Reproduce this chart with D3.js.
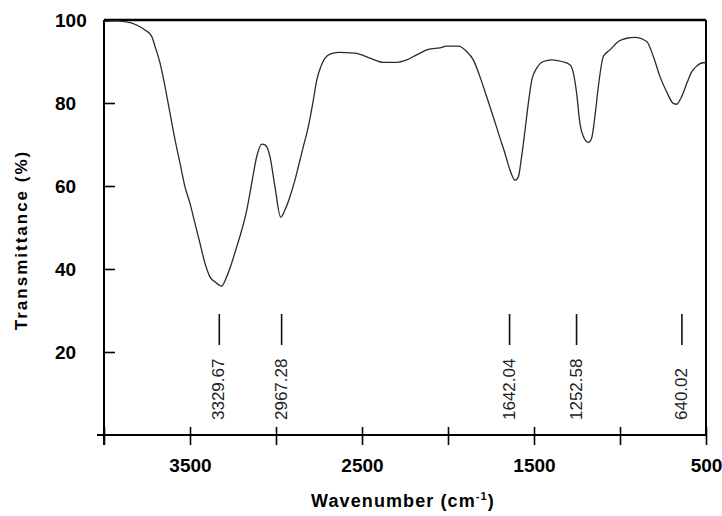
<!DOCTYPE html>
<html>
<head>
<meta charset="utf-8">
<script src="https://cdn.jsdelivr.net/npm/d3@7"></script>
<style>
  body { margin: 0; background: #fff; }
  svg { display: block; font-family: "Liberation Sans", Arial, sans-serif; }
</style>
</head>
<body>
<svg id="chart"></svg>
<script>
// spectrum
let wavenumber = [4000, 3946, 3878, 3810, 3762, 3723, 3703, 3674, 3645, 3616, 3587, 3558, 3529, 3500,
  3471, 3442, 3413, 3384, 3355, 3316, 3287, 3258, 3228, 3199, 3170, 3141, 3112, 3083, 3064, 3035,
  3006, 2973, 2948, 2919, 2890, 2870, 2841, 2812, 2783, 2763, 2740, 2715, 2686, 2638, 2541, 2453,
  2376, 2298, 2240, 2182, 2115, 2047, 2008, 1940, 1891, 1853, 1814, 1775, 1737, 1698, 1669, 1640,
  1610, 1591, 1572, 1552, 1533, 1513, 1484, 1446, 1397, 1339, 1291, 1271, 1252, 1233, 1213, 1184,
  1165, 1146, 1126, 1097, 1058, 1010, 961, 913, 845, 806, 767, 729, 690, 671, 642, 612, 583, 554, 516, 500];
let transmittance = [99.6, 99.8, 99.6, 98.8, 97.6, 96.1, 93.6, 89.6, 83.9, 77.5, 71.1, 65.5, 59.8, 55.8,
  51.0, 46.2, 41.4, 38.1, 36.9, 35.9, 38.1, 41.4, 45.4, 49.4, 54.2, 60.7, 67.1, 70.1, 69.9, 67.1,
  59.8, 52.5, 54.2, 57.4, 61.4, 64.7, 69.5, 74.3, 80.7, 85.5, 88.7, 90.8, 91.8, 92.2, 92.0, 90.8,
  89.8, 89.8, 90.4, 91.6, 92.9, 93.3, 93.7, 93.7, 92.4, 90.4, 86.3, 81.5, 76.7, 71.6, 67.9, 63.9,
  61.4, 62.2, 67.1, 73.5, 79.9, 85.5, 88.4, 90.0, 90.4, 90.0, 89.2, 87.2, 82.3, 75.1, 71.9, 70.5,
  71.5, 76.7, 83.9, 91.2, 92.8, 94.8, 95.6, 95.8, 94.8, 91.2, 86.3, 82.7, 79.9, 79.7, 81.5, 84.7, 87.5, 88.9, 89.7, 89.7];

let peaks = [3329.67, 2967.28, 1642.04, 1252.58, 640.02];

let xTicks = [4000, 3500, 3000, 2500, 2000, 1500, 1000, 500];
let xTickLabels = ["", "3500", "", "2500", "", "1500", "", "500"];
let yTicks = [20, 40, 60, 80, 100];

let ancho = 722, alto = 516;
let izq = 104, der = 706, arriba = 20, abajo = 435;

let svg = d3.select("#chart").attr("width", ancho).attr("height", alto);
svg.append("rect").attr("width", ancho).attr("height", alto).attr("fill", "#fff");

let x = d3.scaleLinear().domain([4000, 500]).range([izq, der]);
let y = d3.scaleLinear().domain([0, 100]).range([abajo, arriba]);

// axis lines and frame
let frame = svg.append("g").attr("stroke", "#000").attr("stroke-width", 2);
frame.append("line").attr("x1", izq - 7).attr("x2", der).attr("y1", abajo).attr("y2", abajo);
frame.append("line").attr("x1", izq).attr("x2", izq).attr("y1", arriba).attr("y2", abajo + 10);
frame.append("line").attr("x1", izq).attr("x2", der).attr("y1", arriba).attr("y2", arriba).attr("stroke-width", 2.5);
frame.append("line").attr("x1", der).attr("x2", der).attr("y1", arriba).attr("y2", abajo);

// x axis
let xAxis = svg.append("g")
  .attr("transform", "translate(0," + abajo + ")")
  .call(d3.axisBottom(x).tickValues(xTicks).tickSize(10)
    .tickFormat(function (d, i) { return xTickLabels[i]; }));
xAxis.select(".domain").remove();
xAxis.selectAll(".tick line").attr("y1", -8).attr("y2", 10).attr("stroke", "#000").attr("stroke-width", 1.6);
xAxis.selectAll(".tick text")
  .attr("y", 37).attr("dy", 0)
  .attr("fill", "#000")
  .style("font-size", "19px").style("font-weight", "bold")
  .style("font-family", "'Liberation Sans', Arial, sans-serif");

// y axis, ticks pointing inward, labels left aligned
let yAxis = svg.append("g")
  .attr("transform", "translate(" + izq + ",0)")
  .call(d3.axisRight(y).tickValues(yTicks).tickSize(11));
yAxis.select(".domain").remove();
yAxis.selectAll(".tick line").attr("stroke", "#000").attr("stroke-width", 1.6);
yAxis.selectAll(".tick text")
  .attr("x", -49).attr("dy", "0.36em")
  .attr("text-anchor", "start")
  .attr("fill", "#000")
  .style("font-size", "19px").style("font-weight", "bold")
  .style("font-family", "'Liberation Sans', Arial, sans-serif");

// spectrum
let puntos = wavenumber.map(function (w, i) { return [w, transmittance[i]]; });
let linea = d3.line()
  .x(function (d) { return x(d[0]); })
  .y(function (d) { return y(d[1]); })
  .curve(d3.curveMonotoneX);
svg.append("path")
  .datum(puntos)
  .attr("d", linea)
  .attr("fill", "none")
  .attr("stroke", "#2a2a2a")
  .attr("stroke-width", 1.3);

// peak markers
let marcas = svg.selectAll(".peak").data(peaks).enter().append("g").attr("class", "peak");
marcas.append("line")
  .attr("x1", function (d) { return x(d); })
  .attr("x2", function (d) { return x(d); })
  .attr("y1", 314).attr("y2", 345)
  .attr("stroke", "#111").attr("stroke-width", 1.6);
marcas.append("text")
  .attr("transform", function (d) { return "translate(" + (x(d) + 5) + ",420) rotate(-90)"; })
  .attr("text-anchor", "start")
  .attr("fill", "#222")
  .style("font-size", "17px")
  .text(function (d) { return d.toFixed(2); });

// axis titles
let xt = svg.append("text")
  .attr("x", 403).attr("y", 507)
  .attr("text-anchor", "middle")
  .style("font-size", "18px").style("font-weight", "bold").style("letter-spacing", "1.1px")
  .attr("fill", "#000");
xt.append("tspan").text("Wavenumber (cm");
xt.append("tspan").attr("dy", -7).style("font-size", "11px").text("-1");
xt.append("tspan").attr("dy", 7).text(")");

svg.append("text")
  .attr("transform", "translate(27,240) rotate(-90)")
  .attr("text-anchor", "middle")
  .style("font-size", "17px").style("font-weight", "bold").style("letter-spacing", "2px")
  .attr("fill", "#000")
  .text("Transmittance (%)");
</script>
</body>
</html>
